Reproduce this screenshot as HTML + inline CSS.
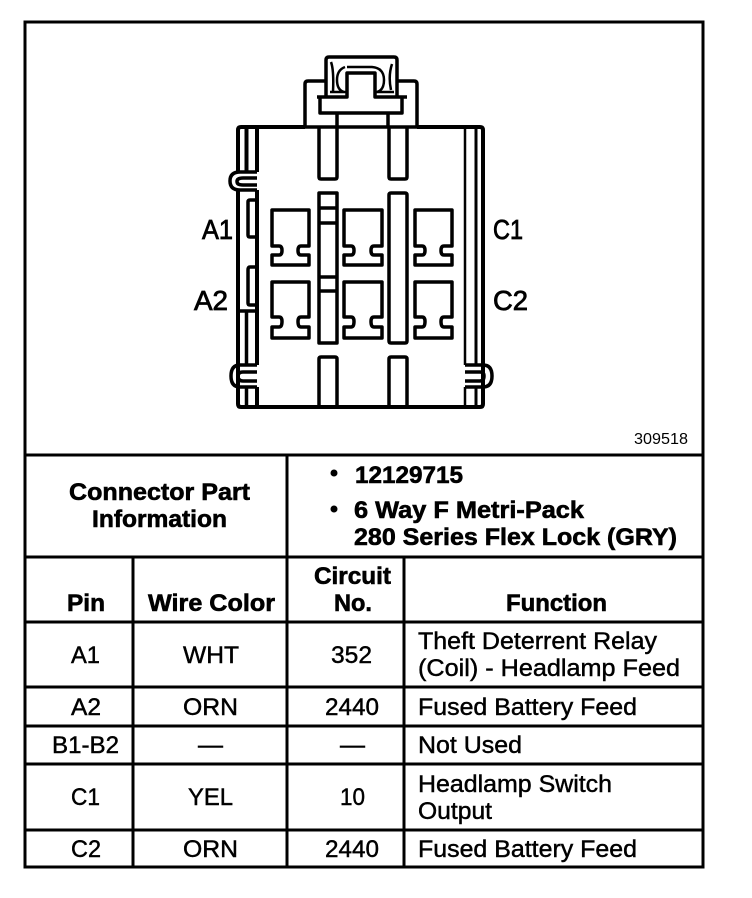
<!DOCTYPE html>
<html><head><meta charset="utf-8"><style>
html,body{margin:0;padding:0;background:#fff}
svg{display:block}
text{font-family:"Liberation Sans",sans-serif;fill:#000}
.b{font-weight:bold;font-size:24px;stroke:#000;stroke-width:.6px}
.r{font-size:24px;stroke:#000;stroke-width:.45px}
.l{font-size:28px;stroke:#000;stroke-width:.8px}
</style></head><body>
<svg width="752" height="898" viewBox="0 0 752 898" xmlns="http://www.w3.org/2000/svg">
<rect width="752" height="898" fill="#fff"/>
<g fill="none" stroke="#000" stroke-width="3">
<rect x="25" y="22" width="678" height="845"/>
<path d="M25 455H703M25 557H703M25 622H703M25 687H703M25 726H703M25 764H703M25 830H703"/>
<path d="M287 455V867M133 557V867M404 557V867"/>
</g>
<g fill="none" stroke="#000" stroke-width="3.5" stroke-linejoin="round">
<!-- body -->
<path d="M305 127H241Q238 127 238 130V172M238 190V404Q238 407 241 407H480Q483 407 483 404V130Q483 127 480 127H417" stroke-width="4"/>
<path d="M305 127H417"/>
<path d="M257 127V172M246.500 127V172M257 190V365M257 387V407" stroke-width="4"/>
<path d="M465 127V365M465 387V407" stroke-width="2.500"/>
<path d="M476 127V365M476 387V407" stroke-width="3"/>
<path d="M246.500 311V365M246.500 387V407M238 311H257"/>
<!-- clips -->
<path d="M257 172H240Q230 172 230 181Q230 190 240 190H257M257 178H243Q237 178 237 181.500Q237 185 243 185H257"/>
<path d="M257 365H240Q231 365 231 376Q231 387 240 387H257M257 372H243Q238 372 238 376Q238 381 243 381H257"/>
<path d="M465 365H483Q492 365 492 376Q492 387 483 387H465M465 372H480Q484 372 484 376Q484 381 480 381H465"/>
<!-- side small rects -->
<path d="M257 200H250Q248 200 248 202V235Q248 237 250 237H257M257 267H250Q248 267 248 270V303Q248 305 250 305H257"/>
<!-- latch -->
<path d="M305 127V84Q305 81 308 81H326M397 81H414Q417 81 417 84V127"/>
<path d="M326 97V60Q326 57 329 57H394Q397 57 397 60V97" stroke-width="3.500"/>
<path d="M317 97H347V73H375V97H407"/>
<path d="M320 97V113H402V97"/>
<path d="M337 113V127M388 113V127"/>
<path d="M347 67H372Q384 68 384 80Q384 90 377 92M345 67Q337 70 337 80Q337 90 344 92M330 92H347M375 92H394" stroke-width="2.500"/>
<path d="M331 62Q334 70 333 92M392 64Q388 76 391 90" stroke-width="2.500"/>
<!-- slots -->
<path d="M319 127V177Q319 179 321 179H335Q337 179 337 177V127"/>
<path d="M389 127V177Q389 179 391 179H405Q407 179 407 177V127"/>
<path d="M319 193H337V343H319ZM319 208H337M319 223H337M319 277H337M319 291H337"/>
<path d="M389 195Q389 193 391 193H405Q407 193 407 195V341Q407 343 405 343H391Q389 343 389 341Z"/>
<path d="M319 407V359Q319 357 321 357H335Q337 357 337 359V407"/>
<path d="M389 407V359Q389 357 391 357H405Q407 357 407 359V407"/>
<!-- terminals top -->
<path d="M272 210H309V246H301Q298 246 298 250.500Q298 255 301 255H309V265H272V255H279Q282 255 282 250.500Q282 246 279 246H272Z"/>
<path d="M344 210H382V246H374Q371 246 371 250.500Q371 255 374 255H382V265H344V255H351Q354 255 354 250.500Q354 246 351 246H344Z"/>
<path d="M415 210H452V246H444Q441 246 441 250.500Q441 255 444 255H452V265H415V255H422Q425 255 425 250.500Q425 246 422 246H415Z"/>
<!-- terminals bottom -->
<path d="M272 282H309V317H301Q298 317 298 321.500Q298 327 301 327H309V338H272V327H279Q282 327 282 321.500Q282 317 279 317H272Z"/>
<path d="M344 282H382V317H374Q371 317 371 321.500Q371 327 374 327H382V338H344V327H351Q354 327 354 321.500Q354 317 351 317H344Z"/>
<path d="M415 282H452V317H444Q441 317 441 321.500Q441 327 444 327H452V338H415V327H422Q425 327 425 321.500Q425 317 422 317H415Z"/>
</g>
<!-- labels -->
<text class="l" x="202" y="239" textLength="31" lengthAdjust="spacingAndGlyphs">A1</text>
<text class="l" x="194" y="310" textLength="34" lengthAdjust="spacingAndGlyphs">A2</text>
<text class="l" x="493" y="239" textLength="30" lengthAdjust="spacingAndGlyphs">C1</text>
<text class="l" x="493" y="310" textLength="35" lengthAdjust="spacingAndGlyphs">C2</text>
<text x="634" y="444" font-size="16" textLength="54" lengthAdjust="spacingAndGlyphs">309518</text>
<!-- bold -->
<text class="b" x="69" y="500" textLength="181" lengthAdjust="spacingAndGlyphs">Connector Part</text>
<text class="b" x="92" y="527" textLength="135" lengthAdjust="spacingAndGlyphs">Information</text>
<circle cx="334" cy="473" r="3.5"/><circle cx="334" cy="509" r="3.5"/>
<text class="b" x="355" y="483" textLength="108" lengthAdjust="spacingAndGlyphs">12129715</text>
<text class="b" x="354" y="518" textLength="230" lengthAdjust="spacingAndGlyphs">6 Way F Metri-Pack</text>
<text class="b" x="354" y="545" textLength="323" lengthAdjust="spacingAndGlyphs">280 Series Flex Lock (GRY)</text>
<text class="b" x="314" y="584" textLength="77" lengthAdjust="spacingAndGlyphs">Circuit</text>
<text class="b" x="334" y="611" textLength="38" lengthAdjust="spacingAndGlyphs">No.</text>
<text class="b" x="67" y="611" textLength="38" lengthAdjust="spacingAndGlyphs">Pin</text>
<text class="b" x="148" y="611" textLength="127" lengthAdjust="spacingAndGlyphs">Wire Color</text>
<text class="b" x="506" y="611" textLength="101" lengthAdjust="spacingAndGlyphs">Function</text>
<!-- rows -->
<text class="r" x="71" y="663" textLength="29" lengthAdjust="spacingAndGlyphs">A1</text>
<text class="r" x="183" y="663" textLength="56" lengthAdjust="spacingAndGlyphs">WHT</text>
<text class="r" x="331" y="663" textLength="41" lengthAdjust="spacingAndGlyphs">352</text>
<text class="r" x="418" y="649" textLength="239" lengthAdjust="spacingAndGlyphs">Theft Deterrent Relay</text>
<text class="r" x="418" y="676" textLength="262" lengthAdjust="spacingAndGlyphs">(Coil) - Headlamp Feed</text>
<text class="r" x="71" y="715" textLength="30" lengthAdjust="spacingAndGlyphs">A2</text>
<text class="r" x="183" y="715" textLength="55" lengthAdjust="spacingAndGlyphs">ORN</text>
<text class="r" x="325" y="715" textLength="54" lengthAdjust="spacingAndGlyphs">2440</text>
<text class="r" x="418" y="715" textLength="219" lengthAdjust="spacingAndGlyphs">Fused Battery Feed</text>
<text class="r" x="52" y="753" textLength="67" lengthAdjust="spacingAndGlyphs">B1-B2</text>
<text class="r" x="198" y="753" textLength="25" lengthAdjust="spacingAndGlyphs">—</text>
<text class="r" x="340" y="753" textLength="25" lengthAdjust="spacingAndGlyphs">—</text>
<text class="r" x="418" y="753" textLength="104" lengthAdjust="spacingAndGlyphs">Not Used</text>
<text class="r" x="71" y="805" textLength="29" lengthAdjust="spacingAndGlyphs">C1</text>
<text class="r" x="188" y="805" textLength="45" lengthAdjust="spacingAndGlyphs">YEL</text>
<text class="r" x="340" y="805" textLength="25" lengthAdjust="spacingAndGlyphs">10</text>
<text class="r" x="418" y="792" textLength="194" lengthAdjust="spacingAndGlyphs">Headlamp Switch</text>
<text class="r" x="418" y="819" textLength="74" lengthAdjust="spacingAndGlyphs">Output</text>
<text class="r" x="71" y="857" textLength="30" lengthAdjust="spacingAndGlyphs">C2</text>
<text class="r" x="183" y="857" textLength="55" lengthAdjust="spacingAndGlyphs">ORN</text>
<text class="r" x="325" y="857" textLength="54" lengthAdjust="spacingAndGlyphs">2440</text>
<text class="r" x="418" y="857" textLength="219" lengthAdjust="spacingAndGlyphs">Fused Battery Feed</text>
</svg>
</body></html>
